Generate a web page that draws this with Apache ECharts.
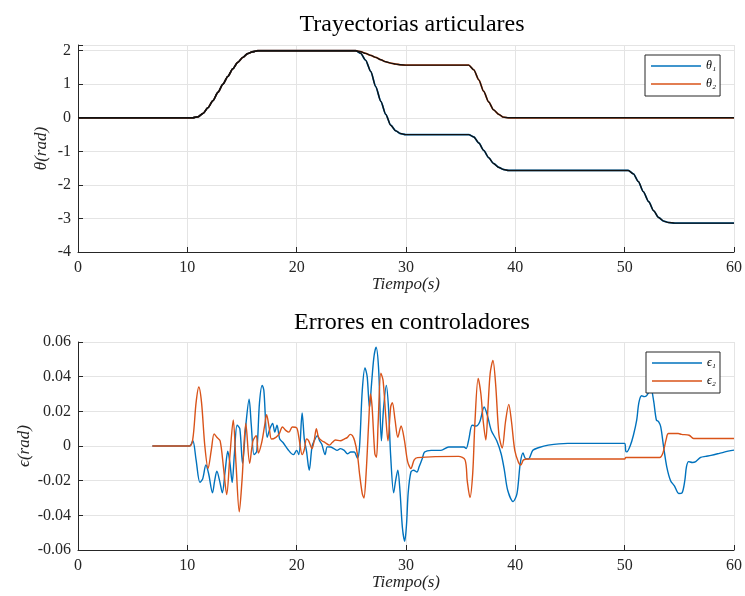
<!DOCTYPE html>
<html>
<head>
<meta charset="utf-8">
<script src="https://cdn.jsdelivr.net/npm/echarts@6/dist/echarts.min.js"></script>
<style>
  html, body { margin: 0; padding: 0; background: #fff; }
  #chart { width: 745px; height: 596px; }
</style>
</head>
<body>
<div id="chart"></div>
<script>
// tiempos y trayectorias articulares (referencia)
var tTheta = [0, 10.5, 10.97, 11.43, 11.88, 12.34, 12.8, 13.25, 13.7, 14.16, 14.6, 15.08, 15.5, 15.99, 16.44,
  25.4, 25.86, 26.3, 26.78, 27.23, 27.7, 28.15, 28.6, 29.07, 29.5, 29.97,
  35.74, 36.2, 36.66, 37.1, 37.57, 38.0, 38.5, 38.9, 39.4,
  50.33, 50.8, 51.25, 51.7, 52.2, 52.65, 53.1, 53.57, 54.0, 54.6, 60];
var theta1 = [0, 0, 0.03, 0.13, 0.30, 0.51, 0.76, 1.0, 1.23, 1.46, 1.65, 1.8, 1.91, 1.97, 2.0,
  2.0, 1.92, 1.72, 1.38, 0.93, 0.49, 0.1, -0.22, -0.39, -0.47, -0.5,
  -0.5, -0.57, -0.75, -0.97, -1.19, -1.36, -1.48, -1.54, -1.57,
  -1.57, -1.67, -1.9, -2.2, -2.5, -2.77, -2.97, -3.08, -3.12, -3.14, -3.14];
var theta2 = [0, 0, 0.03, 0.13, 0.30, 0.51, 0.76, 1.0, 1.23, 1.46, 1.65, 1.8, 1.91, 1.97, 2.0,
  2.0, 1.97, 1.92, 1.86, 1.8, 1.73, 1.67, 1.63, 1.6, 1.58, 1.57,
  1.57, 1.43, 1.13, 0.79, 0.47, 0.24, 0.1, 0.02, 0,
  0, 0, 0, 0, 0, 0, 0, 0, 0, 0, 0];

// errores en controladores
var tErr1 = [6.8, 10.2, 10.5, 10.8, 11.15, 11.4, 11.7, 11.95, 12.3, 12.5, 12.7, 12.95, 13.2, 13.45, 13.7, 13.9,
  14.1, 14.3, 14.55, 14.8, 15.05, 15.35, 15.65, 15.85, 16.1, 16.35, 16.6, 16.85, 17.0, 17.3, 17.55, 17.8,
  18.0, 18.2, 18.45, 18.75, 19.2, 19.7, 20.0, 20.2, 20.5, 20.7, 20.9, 21.15, 21.4, 21.6, 21.9, 22.1,
  22.3, 22.6, 22.8, 23.1, 23.4, 23.7, 24.0, 24.35, 24.65, 24.95, 25.26, 25.56, 25.75, 26.0, 26.25, 26.45,
  26.66, 26.85, 27.06, 27.26, 27.5, 27.75, 27.95, 28.2, 28.4, 28.6, 28.87, 29.05, 29.25, 29.45, 29.67, 29.88,
  30.05, 30.2, 30.45, 30.7, 31.0, 31.2, 31.5, 31.7, 32.3, 33.2, 33.9, 35.3, 35.5, 35.75, 36.05, 36.4,
  36.75, 37.15, 37.45, 37.8, 38.3, 38.7, 39.0, 39.3, 39.8, 40.15, 40.45, 40.7, 40.9, 41.2, 41.6, 42.1,
  43.0, 44.8, 50.0, 50.1, 50.2, 50.5, 50.8, 51.1, 51.3, 51.55, 51.8, 52.0, 52.2, 52.4, 52.65, 52.9,
  53.1, 53.3, 53.55, 53.85, 54.2, 54.55, 54.95, 55.25, 55.5, 55.65, 55.85, 56.2, 56.5, 56.95, 57.4, 57.9,
  58.5, 59.1, 60.0];
var err1 = [0, 0, 0.003, -0.008, -0.021, -0.019, -0.011, -0.016, -0.027, -0.02, -0.0145, -0.02, -0.027, -0.015, -0.003, -0.01,
  -0.021, -0.005, 0.012, 0.01, -0.01, 0.012, 0.027, 0.012, -0.005, -0.003, 0.025, 0.035, 0.032, 0.005, 0.01, 0.013,
  0.008, 0.012, 0.004, 0.002, -0.002, -0.005, -0.0025, -0.005, 0.019, 0.004, -0.003, -0.014, -0.0005, 0.003, 0.006, 0.003,
  0.001, -0.005, -0.0005, -0.0006, -0.0015, -0.0025, -0.0015, -0.0025, -0.0045, -0.0035, -0.0035, -0.007, -0.0005, 0.032, 0.045, 0.04,
  0.022, 0.036, 0.051, 0.057, 0.044, 0.003, 0.022, 0.035, 0.022, -0.006, -0.027, -0.02, -0.014, -0.026, -0.047, -0.055,
  -0.045, -0.027, -0.015, -0.014, -0.015, -0.012, -0.007, -0.0035, -0.0025, -0.0025, -0.0006, -0.0006, -0.0015, 0.004, 0.012, 0.0115,
  0.014, 0.0225, 0.0175, 0.009, 0.003, -0.0045, -0.014, -0.0255, -0.032, -0.0275, -0.01, -0.004, -0.007, -0.0075, -0.0025, -0.001,
  0.0005, 0.0015, 0.0015, -0.003, -0.0034, 0.0, 0.0062, 0.0149, 0.025, 0.029, 0.0285, 0.029, 0.031, 0.033, 0.026, 0.015,
  0.014, 0.011, 0.0, -0.012, -0.02, -0.023, -0.0274, -0.027, -0.02, -0.012, -0.009, -0.0095, -0.009, -0.0066, -0.006, -0.0054,
  -0.0045, -0.0035, -0.0024];
var tErr2 = [6.8, 10.2, 10.5, 10.8, 11.05, 11.3, 11.6, 11.9, 12.2, 12.45, 12.7, 13.0, 13.3, 13.6, 13.9, 14.2,
  14.45, 14.75, 15.0, 15.35, 15.7, 16.0, 16.3, 16.5, 16.8, 17.05, 17.25, 17.5, 17.7, 18.1, 18.4, 18.7,
  19.0, 19.3, 19.6, 20.0, 20.2, 20.5, 20.7, 20.9, 21.1, 21.4, 21.6, 21.8, 22.0, 22.3, 22.6, 23.0,
  23.25, 23.55, 24.0, 24.35, 24.65, 24.9, 25.1, 25.3, 25.55, 25.75, 26.0, 26.15, 26.35, 26.6, 26.75, 26.9,
  27.15, 27.3, 27.45, 27.7, 27.9, 28.15, 28.35, 28.6, 28.75, 29.0, 29.25, 29.55, 29.85, 30.15, 30.45, 30.75,
  31.05, 34.8, 35.4, 35.6, 35.85, 36.1, 36.3, 36.6, 36.85, 37.05, 37.3, 37.5, 37.7, 37.95, 38.2, 38.5,
  38.8, 39.1, 39.4, 39.65, 39.95, 40.3, 40.5, 40.75, 41.2, 50.0, 50.1, 53.2, 53.5, 53.8, 54.0, 54.9,
  55.2, 55.9, 56.3, 60];
var err2 = [0, 0, 0.004, 0.025, 0.034, 0.025, 0.0, -0.013, -0.002, 0.007, 0.005, 0.003, -0.012, -0.028, -0.005, 0.015,
  -0.01, -0.038, -0.02, 0.013, -0.01, 0.003, 0.006, -0.004, 0.002, 0.011, 0.018, 0.01, 0.004, 0.005, 0.007, 0.011,
  0.009, 0.008, 0.011, 0.0105, 0.005, -0.005, -0.002, 0.004, 0.003, -0.0015, 0.003, 0.01, 0.005, 0.003, 0.002, 0.0005,
  0.002, 0.0035, 0.003, 0.004, 0.005, 0.0067, 0.006, 0.003, -0.0045, -0.016, -0.0275, -0.03, -0.016, 0.015, 0.03, 0.0225,
  -0.0045, -0.0065, 0.013, 0.042, 0.038, 0.017, 0.003, 0.0225, 0.025, 0.015, 0.005, 0.0115, 0.0035, -0.009, -0.013, -0.008,
  -0.0067, -0.006, -0.008, -0.02, -0.0297, -0.016, 0.013, 0.039, 0.03, 0.015, 0.0035, 0.0225, 0.042, 0.0494, 0.0355, 0.0065,
  -0.0012, 0.014, 0.024, 0.014, -0.0025, -0.0097, -0.011, -0.008, -0.0075, -0.0075, -0.0066, -0.0066, -0.004, 0.004, 0.0072, 0.0072,
  0.0067, 0.0062, 0.0043, 0.0043];

var xTicks = [0, 10, 20, 30, 40, 50, 60];

function zip(t, v) {
  return t.map(function (x, i) { return [x, v[i]]; });
}

var serif = 'Liberation Serif';
var axisColor = '#262626';
var gridColor = '#e4e4e4';
var blue = '#0072BD';
var orange = '#D95319';

function xAxisCfg(idx) {
  return {
    type: 'value', gridIndex: idx, min: xTicks[0], max: xTicks[xTicks.length - 1], interval: 10,
    name: 'Tiempo(s)', nameLocation: 'middle', nameGap: 24, nameMoveOverlap: false,
    nameTextStyle: { fontFamily: serif, fontStyle: 'italic', fontSize: 17, color: axisColor },
    axisLine: { onZero: false, lineStyle: { color: axisColor, width: 1 } },
    axisTick: { inside: true, length: 5, lineStyle: { color: axisColor } },
    axisLabel: { fontFamily: serif, fontSize: 16, color: axisColor, margin: 8 },
    splitLine: { show: true, lineStyle: { color: gridColor, width: 1 } }
  };
}

var chart = echarts.init(document.getElementById('chart'));
chart.setOption({
  animation: false,
  backgroundColor: '#fff',
  title: [
    { text: 'Trayectorias articulares', left: 407, top: 8, textAlign: 'center',
      textStyle: { fontFamily: serif, fontWeight: 'normal', fontSize: 24, color: '#000' } },
    { text: 'Errores en controladores', left: 407, top: 306, textAlign: 'center',
      textStyle: { fontFamily: serif, fontWeight: 'normal', fontSize: 24, color: '#000' } }
  ],
  grid: [
    { left: 78, right: 9, top: 45, height: 207 },
    { left: 78, right: 9, top: 342, height: 208 }
  ],
  legend: [
    { data: ['θ₁', 'θ₂'], orient: 'vertical', left: 645, top: 55, icon: 'rect', itemWidth: 50, itemHeight: 1.5,
      itemGap: 4, padding: [4, 4, 5, 6], borderColor: axisColor, borderWidth: 1, backgroundColor: '#fff',
      textStyle: { fontFamily: serif, fontStyle: 'italic', fontSize: 12, lineHeight: 14, color: '#000' } },
    { data: ['ϵ₁', 'ϵ₂'], orient: 'vertical', left: 646, top: 352, icon: 'rect', itemWidth: 50, itemHeight: 1.5,
      itemGap: 4, padding: [4, 4, 5, 6], borderColor: axisColor, borderWidth: 1, backgroundColor: '#fff',
      textStyle: { fontFamily: serif, fontStyle: 'italic', fontSize: 12, lineHeight: 14, color: '#000' } }
  ],
  xAxis: [xAxisCfg(0), xAxisCfg(1)],
  yAxis: [
    { type: 'value', gridIndex: 0, min: -4, max: 2.17, interval: 1,
      name: 'θ(rad)', nameLocation: 'middle', nameGap: 28, nameMoveOverlap: false,
      nameTextStyle: { fontFamily: serif, fontStyle: 'italic', fontSize: 17, color: axisColor },
      axisLine: { show: true, onZero: false, lineStyle: { color: axisColor } },
      axisTick: { show: true, inside: true, length: 5, lineStyle: { color: axisColor } },
      axisLabel: { fontFamily: serif, fontSize: 16, color: axisColor, margin: 7,
        formatter: function (v) { return Math.abs(v - Math.round(v)) < 1e-6 ? String(Math.round(v)) : ''; } },
      splitLine: { show: true, lineStyle: { color: gridColor } } },
    { type: 'value', gridIndex: 1, min: -0.06, max: 0.06, interval: 0.02,
      name: 'ϵ(rad)', nameLocation: 'middle', nameGap: 45, nameMoveOverlap: false,
      nameTextStyle: { fontFamily: serif, fontStyle: 'italic', fontSize: 17, color: axisColor },
      axisLine: { show: true, onZero: false, lineStyle: { color: axisColor } },
      axisTick: { show: true, inside: true, length: 5, lineStyle: { color: axisColor } },
      axisLabel: { fontFamily: serif, fontSize: 16, color: axisColor, margin: 7,
        formatter: function (v) { return Math.abs(v) < 1e-9 ? '0' : v.toFixed(2); } },
      splitLine: { show: true, lineStyle: { color: gridColor } } }
  ],
  series: [
    { name: 'θ₁', type: 'line', xAxisIndex: 0, yAxisIndex: 0, data: zip(tTheta, theta1), showSymbol: false, symbol: 'none',
      smooth: 0.25, smoothMonotone: 'x', color: blue, lineStyle: { color: blue, width: 1.7 } },
    { name: 'θ₂', type: 'line', xAxisIndex: 0, yAxisIndex: 0, data: zip(tTheta, theta2), showSymbol: false, symbol: 'none',
      smooth: 0.25, smoothMonotone: 'x', color: orange, lineStyle: { color: orange, width: 1.7 } },
    { name: 'ref1', type: 'line', xAxisIndex: 0, yAxisIndex: 0, data: zip(tTheta, theta1), showSymbol: false, symbol: 'none',
      smooth: 0.25, smoothMonotone: 'x', z: 3, lineStyle: { color: '#111', width: 1.4 } },
    { name: 'ref2', type: 'line', xAxisIndex: 0, yAxisIndex: 0, data: zip(tTheta, theta2), showSymbol: false, symbol: 'none',
      smooth: 0.25, smoothMonotone: 'x', z: 3, lineStyle: { color: '#111', width: 1.4 } },
    { name: 'ϵ₁', type: 'line', xAxisIndex: 1, yAxisIndex: 1, data: zip(tErr1, err1), showSymbol: false, symbol: 'none',
      smooth: 0.3, color: blue, lineStyle: { color: blue, width: 1.4 } },
    { name: 'ϵ₂', type: 'line', xAxisIndex: 1, yAxisIndex: 1, data: zip(tErr2, err2), showSymbol: false, symbol: 'none',
      smooth: 0.3, color: orange, lineStyle: { color: orange, width: 1.4 } }
  ]
});
</script>
</body>
</html>
